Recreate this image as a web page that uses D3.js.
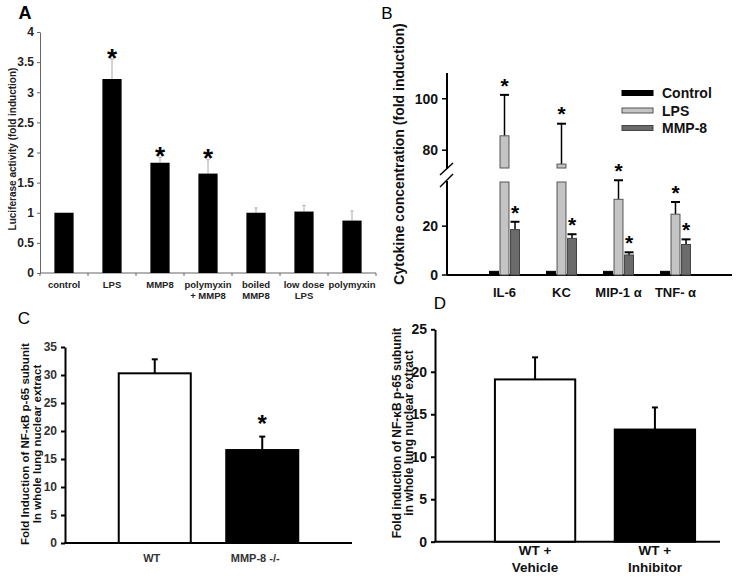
<!DOCTYPE html>
<html>
<head>
<meta charset="utf-8">
<script src="https://cdn.jsdelivr.net/npm/d3@7"></script>
<style>
  body { margin: 0; background: #fff; }
  svg { font-family: "Liberation Sans", Arial, sans-serif; }
  svg text { font-weight: bold; }
</style>
</head>
<body>
<svg id="fig" width="741" height="578"></svg>
<script>
// panel A - luciferase
const catsA = ["control", "LPS", "MMP8", "polymyxin\n+ MMP8", "boiled\nMMP8", "low dose\nLPS", "polymyxin"];
const valsA = [1.0, 3.22, 1.83, 1.65, 1.0, 1.02, 0.87];
const errA = [0.0, 0.33, 0.09, 0.23, 0.08, 0.10, 0.16];
const starA = [false, true, true, true, false, false, false];
const ticksA = [0, 0.5, 1, 1.5, 2, 2.5, 3, 3.5, 4];

// panel B - cytokines (broken axis)
const groupsB = ["IL-6", "KC", "MIP-1 α", "TNF- α"];
const seriesB = ["Control", "LPS", "MMP-8"];
const controlB = [1.5, 1.5, 1.5, 1.5];
const lpsB = [85.6, 74.6, 31.0, 24.9];
const lpsErrB = [15.9, 15.7, 7.8, 5.0];
const mmpB = [18.6, 15.0, 8.2, 12.5];
const mmpErrB = [3.2, 1.7, 1.1, 2.1];
const starLpsB = [true, true, true, true];
const starMmpB = [true, true, true, true];
const ticksBLow = [0, 20];
const ticksBHigh = [80, 100];

// panel C - knockout
const catsC = ["WT", "MMP-8 -/-"];
const valsC = [30.3, 16.6];
const errC = [2.5, 2.4];
const starC = [false, true];
const ticksC = [0, 5, 10, 15, 20, 25, 30, 35];

// panel D - inhibitor
const catsD = ["WT +\nVehicle", "WT +\nInhibitor"];
const valsD = [19.1, 13.2];
const errD = [2.6, 2.6];
const ticksD = [0, 5, 10, 15, 20, 25];

const yLabelC = ["Fold Induction of NF-κB p-65 subunit", "In whole lung nuclear extract"];
const yLabelD = ["Fold induction of NF-κB p-65 subunit", "in whole lung nuclear extract"];

const svg = d3.select("#fig");

// asterisk: y is the visual centre of the glyph
function star(g, x, y, size) {
    g.append("text").attr("x", x).attr("y", y + size * 0.56)
        .attr("text-anchor", "middle").attr("font-size", size).text("*");
}

function multiline(sel, str, lineH) {
    str.split("\n").forEach((t, i) => {
        sel.append("tspan").attr("x", sel.attr("x")).attr("dy", i === 0 ? 0 : lineH).text(t);
    });
}

/* ---------------- A ---------------- */
{
    const g = svg.append("g");
    const x = d3.scaleBand().domain(catsA).range([40, 376]).paddingInner(0.6).paddingOuter(0.3);
    const y = d3.scaleLinear().domain([0, 4]).range([273, 32]);

    g.append("text").attr("x", 25).attr("y", 19).attr("text-anchor", "middle")
        .attr("font-size", 18).text("A");

    const yAx = g.append("g").attr("transform", "translate(40,0)")
        .call(d3.axisLeft(y).tickValues(ticksA).tickSize(3).tickSizeOuter(0).tickFormat(d3.format("")))
        .attr("font-family", null).attr("font-size", null);
    yAx.selectAll("path,line").attr("stroke", "#666");
    yAx.selectAll("text").attr("font-size", 12).attr("fill", "#222").attr("x", -6);

    g.append("line").attr("x1", 40).attr("x2", 376).attr("y1", 273).attr("y2", 273).attr("stroke", "#666");
    d3.range(catsA.length + 1).forEach(i => {
        const xx = 40 + i * x.step();
        g.append("line").attr("x1", xx).attr("x2", xx).attr("y1", 273).attr("y2", 276).attr("stroke", "#666");
    });

    // error bars
    catsA.forEach((c, i) => {
        if (errA[i] <= 0) return;
        const cx = x(c) + x.bandwidth() / 2;
        g.append("line").attr("x1", cx).attr("x2", cx).attr("y1", y(valsA[i])).attr("y2", y(valsA[i] + errA[i]))
            .attr("stroke", "#aaa").attr("stroke-width", 1);
        g.append("line").attr("x1", cx - 1.5).attr("x2", cx + 1.5)
            .attr("y1", y(valsA[i] + errA[i])).attr("y2", y(valsA[i] + errA[i])).attr("stroke", "#aaa");
    });

    g.selectAll("rect.a").data(catsA).join("rect")
        .attr("x", d => x(d)).attr("width", x.bandwidth())
        .attr("y", (d, i) => y(valsA[i])).attr("height", (d, i) => 273 - y(valsA[i]))
        .attr("fill", "#000");

    catsA.forEach((c, i) => {
        if (starA[i]) star(g, x(c) + x.bandwidth() / 2, y(valsA[i] + errA[i]) - 7, 26);
        const t = g.append("text").attr("x", x(c) + x.bandwidth() / 2).attr("y", 288)
            .attr("text-anchor", "middle").attr("font-size", 9.5).attr("fill", "#222");
        multiline(t, c, 11);
    });

    g.append("text").attr("transform", "translate(16,149) rotate(-90)")
        .attr("text-anchor", "middle").attr("font-size", 10).attr("fill", "#222")
        .text("Luciferase activity (fold induction)");
}

/* ---------------- B ---------------- */
{
    const g = svg.append("g");
    const axisX = 447, base = 275;
    const lowMax = 38.5, highMin = 72.7;
    const yLow = d3.scaleLinear().domain([0, lowMax]).range([base, 181]);
    const yHigh = d3.scaleLinear().domain([highMin, 110]).range([169, 73]);
    const yB = v => v <= (lowMax + highMin) / 2 ? yLow(v) : yHigh(v);

    const x0 = d3.scalePoint().domain(groupsB).range([504.5, 675.5]);
    const x1 = d3.scaleBand().domain(seriesB).range([-15, 15]).paddingInner(0.15);
    const fills = { "Control": "#000", "LPS": "#c4c4c4", "MMP-8": "#6b6b6b" };
    const strokes = { "Control": "#000", "LPS": "#555", "MMP-8": "#444" };
    const vals = { "Control": controlB, "LPS": lpsB, "MMP-8": mmpB };
    const errs = { "Control": controlB.map(() => 0), "LPS": lpsErrB, "MMP-8": mmpErrB };
    const stars = { "Control": controlB.map(() => false), "LPS": starLpsB, "MMP-8": starMmpB };

    g.append("text").attr("x", 387).attr("y", 19).attr("text-anchor", "middle")
        .attr("font-size", 17).style("font-weight", "normal").text("B");

    // axes
    g.append("line").attr("x1", axisX).attr("x2", 732).attr("y1", base).attr("y2", base)
        .attr("stroke", "#000").attr("stroke-width", 2);
    g.append("line").attr("x1", axisX).attr("x2", axisX).attr("y1", base).attr("y2", 181)
        .attr("stroke", "#000").attr("stroke-width", 2);
    g.append("line").attr("x1", axisX).attr("x2", axisX).attr("y1", 169).attr("y2", 73)
        .attr("stroke", "#000").attr("stroke-width", 2);
    [[175, 163], [187, 174]].forEach(s => {
        g.append("line").attr("x1", 440).attr("x2", 453).attr("y1", s[0]).attr("y2", s[1])
            .attr("stroke", "#000").attr("stroke-width", 1.5);
    });
    const tk = ticksBLow.map(v => [v, yLow(v)]).concat(ticksBHigh.map(v => [v, yHigh(v)]));
    tk.forEach(t => {
        g.append("line").attr("x1", axisX - 5).attr("x2", axisX).attr("y1", t[1]).attr("y2", t[1])
            .attr("stroke", "#000").attr("stroke-width", 1.5);
        g.append("text").attr("x", axisX - 9).attr("y", t[1] + 5).attr("text-anchor", "end")
            .attr("font-size", 14).attr("fill", "#111").text(t[0]);
    });

    groupsB.forEach((grp, gi) => {
        seriesB.forEach(s => {
            const v = vals[s][gi], e = errs[s][gi];
            const bx = x0(grp) + x1(s), bw = x1.bandwidth(), cx = bx + bw / 2;
            if (e > 0) {
                g.append("line").attr("x1", cx).attr("x2", cx).attr("y1", yB(v)).attr("y2", yB(v + e))
                    .attr("stroke", "#000").attr("stroke-width", 1.5);
                g.append("line").attr("x1", cx - 4.5).attr("x2", cx + 4.5).attr("y1", yB(v + e)).attr("y2", yB(v + e))
                    .attr("stroke", "#000").attr("stroke-width", 2);
            }
            const segs = v <= lowMax ? [[yLow(v), base]] : [[yLow(lowMax) + 1, base], [yHigh(v), yHigh(highMin) - 1]];
            segs.forEach(sg => {
                g.append("rect").attr("x", bx).attr("width", bw).attr("y", sg[0]).attr("height", sg[1] - sg[0])
                    .attr("fill", fills[s]).attr("stroke", strokes[s]).attr("stroke-width", 1);
            });
            if (stars[s][gi]) star(g, cx, yB(v + e) - 14, 21);
        });
        g.append("text").attr("x", x0(grp)).attr("y", 297).attr("text-anchor", "middle")
            .attr("font-size", 13).attr("fill", "#111").text(grp);
    });

    // legend
    seriesB.forEach((s, i) => {
        const ly = 93 + i * 17.5;
        g.append("rect").attr("x", 622).attr("y", ly - 2.5).attr("width", 31).attr("height", 5)
            .attr("fill", fills[s]).attr("stroke", strokes[s]).attr("stroke-width", 1);
        g.append("text").attr("x", 662).attr("y", ly + 5).attr("font-size", 14).attr("fill", "#111").text(s);
    });

    g.append("text").attr("transform", "translate(404,154) rotate(-90)")
        .attr("text-anchor", "middle").attr("font-size", 14).attr("fill", "#111")
        .text("Cytokine concentration (fold induction)");
}

/* ---------------- C and D ---------------- */
function simplePanel(o) {
    const g = svg.append("g");
    const x = d3.scaleBand().domain(o.cats).range(o.xr).paddingInner(0.33).paddingOuter(0.5);
    const y = d3.scaleLinear().domain(o.yd).range(o.yr);

    g.append("text").attr("x", o.letter[1]).attr("y", o.letter[2]).attr("text-anchor", "middle")
        .attr("font-size", 17).style("font-weight", "normal").text(o.letter[0]);

    const yAx = g.append("g").attr("transform", `translate(${o.xr[0]},0)`)
        .call(d3.axisLeft(y).tickValues(o.ticks).tickSize(4).tickSizeOuter(0))
        .attr("font-family", null).attr("font-size", null);
    yAx.selectAll("path,line").attr("stroke", "#000").attr("stroke-width", 2);
    yAx.selectAll("text").attr("font-size", o.tickFs).attr("fill", o.tickCol).attr("x", -8);
    g.append("line").attr("x1", o.xr[0] - 1).attr("x2", o.axisEnd).attr("y1", o.yr[0]).attr("y2", o.yr[0])
        .attr("stroke", "#000").attr("stroke-width", 2);

    o.cats.forEach((c, i) => {
        const bx = x(c), bw = x.bandwidth(), cx = bx + bw / 2;
        const top = y(o.vals[i] + o.errs[i]);
        g.append("line").attr("x1", cx).attr("x2", cx).attr("y1", y(o.vals[i])).attr("y2", top)
            .attr("stroke", "#000").attr("stroke-width", 2);
        g.append("line").attr("x1", cx - 3).attr("x2", cx + 3).attr("y1", top).attr("y2", top)
            .attr("stroke", "#000").attr("stroke-width", 2);
        g.append("rect").attr("x", bx).attr("width", bw).attr("y", y(o.vals[i])).attr("height", o.yr[0] - y(o.vals[i]))
            .attr("fill", i === 0 ? "#fff" : "#000").attr("stroke", "#000").attr("stroke-width", 2);
        if (o.stars && o.stars[i]) star(g, cx, top - 18, 24);
        const t = g.append("text").attr("x", cx + o.labShift[i]).attr("y", o.labY).attr("text-anchor", "middle")
            .attr("font-size", o.labFs).attr("fill", o.tickCol);
        multiline(t, c, 17);
    });

    o.ylab.forEach((line, i) => {
        g.append("text").attr("transform", `translate(${o.ylabX[i]},${o.ylabY}) rotate(-90)`)
            .attr("text-anchor", "middle").attr("dominant-baseline", "central")
            .attr("font-size", o.ylabFs).attr("fill", "#111").text(line);
    });
}

simplePanel({
    cats: catsC, vals: valsC, errs: errC, stars: starC, ticks: ticksC,
    xr: [65, 352], axisEnd: 352, yd: [0, 35], yr: [543, 347],
    letter: ["C", 24, 324], tickFs: 12, tickCol: "#333",
    labY: 562, labFs: 11, labShift: [-3, -7],
    ylab: yLabelC, ylabX: [25, 37], ylabY: 444, ylabFs: 11.5
});

simplePanel({
    cats: catsD, vals: valsD, errs: errD, ticks: ticksD,
    xr: [435, 755], axisEnd: 720, yd: [0, 25], yr: [541.7, 329.3],
    letter: ["D", 440, 309], tickFs: 14, tickCol: "#111",
    labY: 555, labFs: 13.5, labShift: [0, 0],
    ylab: yLabelD, ylabX: [397, 409], ylabY: 433, ylabFs: 12
});
</script>
</body>
</html>
